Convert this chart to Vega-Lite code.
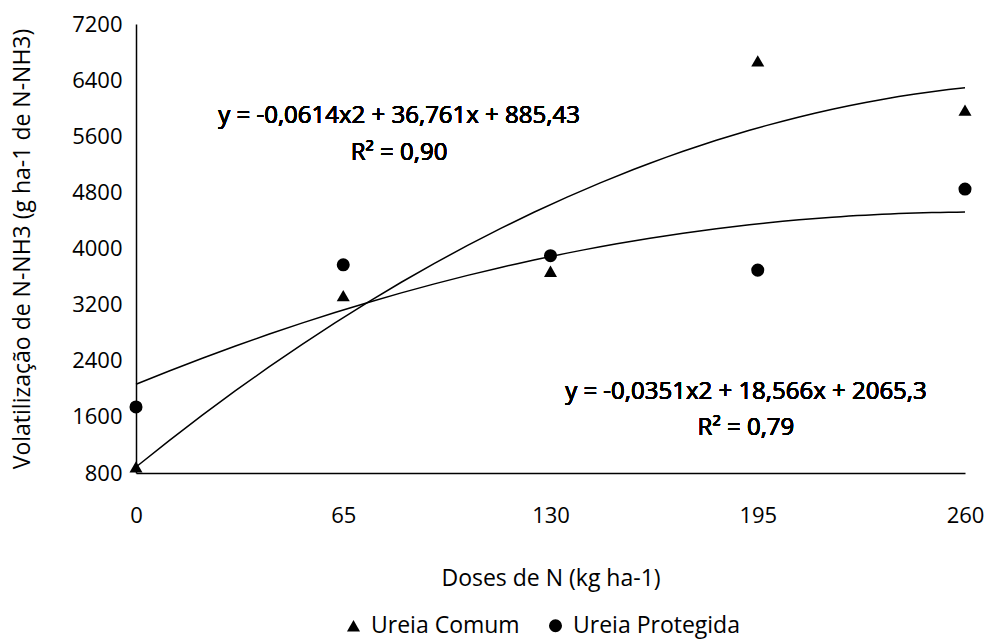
{
  "$schema": "https://vega.github.io/schema/vega-lite/v6.json",
  "autosize": {"type": "none"},
  "padding": {"left": 136, "top": 24, "right": 24, "bottom": 169},
  "width": 829,
  "height": 449,
  "background": "white",
  "config": {
    "view": {"stroke": null},
    "font": "Open Sans",
    "axis": {"grid": false, "ticks": false, "domainColor": "black", "domainWidth": 1.5, "labelColor": "black", "titleColor": "black", "labelFont": "Open Sans", "titleFont": "Open Sans", "labelFontSize": 22, "titleFontSize": 23, "titleFontWeight": "normal"},
    "legend": {"labelFont": "Open Sans", "labelFontSize": 23, "labelColor": "black", "labelLimit": 400}
  },
  "data": {
    "values": [
      {"serie": "Ureia Comum", "dose": 0, "nh3": 888},
      {"serie": "Ureia Comum", "dose": 65, "nh3": 3328},
      {"serie": "Ureia Comum", "dose": 130, "nh3": 3676},
      {"serie": "Ureia Comum", "dose": 195, "nh3": 6674},
      {"serie": "Ureia Comum", "dose": 260, "nh3": 5973},
      {"serie": "Ureia Protegida", "dose": 0, "nh3": 1741},
      {"serie": "Ureia Protegida", "dose": 65, "nh3": 3768},
      {"serie": "Ureia Protegida", "dose": 130, "nh3": 3897},
      {"serie": "Ureia Protegida", "dose": 195, "nh3": 3692},
      {"serie": "Ureia Protegida", "dose": 260, "nh3": 4847}
    ]
  },
  "layer": [
    {
      "transform": [{"regression": "nh3", "on": "dose", "groupby": ["serie"], "method": "poly", "order": 2, "extent": [0, 260]}],
      "mark": {"type": "line", "color": "black", "strokeWidth": 1.5},
      "encoding": {
        "x": {"field": "dose", "type": "quantitative"},
        "y": {"field": "nh3", "type": "quantitative"},
        "detail": {"field": "serie"}
      }
    },
    {
      "mark": {"type": "point", "filled": true, "color": "black", "opacity": 1, "size": 170},
      "encoding": {
        "x": {"field": "dose", "type": "quantitative",
          "scale": {"domain": [0, 260], "nice": false, "zero": false},
          "axis": {"values": [0, 65, 130, 195, 260], "labelPadding": 32, "labelFlush": false, "title": "Doses de N (kg ha-1)", "titleX": 414.5, "titleY": 105, "titleBaseline": "middle"}},
        "y": {"field": "nh3", "type": "quantitative",
          "scale": {"domain": [800, 7200], "nice": false, "zero": false},
          "axis": {"values": [800, 1600, 2400, 3200, 4000, 4800, 5600, 6400, 7200], "format": "d", "labelPadding": 14, "title": "Volatilização de N-NH3 (g ha-1 de N-NH3)", "titleX": -114, "titleY": 224.5, "titleAngle": -90, "titleBaseline": "middle", "titleAlign": "center"}},
        "shape": {"field": "serie", "type": "nominal",
          "scale": {"domain": ["Ureia Comum", "Ureia Protegida"], "range": ["triangle-up", "circle"]},
          "legend": {"title": null, "orient": "none", "direction": "horizontal", "legendX": 206, "legendY": 590, "symbolSize": 170, "symbolFillColor": "black", "symbolStrokeColor": "black", "columnPadding": 24, "labelOffset": 6}}
      }
    },
    {
      "mark": {"type": "text", "font": "Open Sans", "fontSize": 24, "fontWeight": 400, "fill": "black", "align": "center", "baseline": "middle", "text": "y = -0,0614x2 + 36,761x + 885,43"},
      "encoding": {"x": {"datum": 82.5}, "y": {"datum": 5888}}
    },
    {
      "mark": {"type": "text", "font": "Open Sans", "fontSize": 24, "fontWeight": 400, "fill": "black", "align": "center", "baseline": "middle", "text": "R² = 0,90"},
      "encoding": {"x": {"datum": 82.5}, "y": {"datum": 5361}}
    },
    {
      "mark": {"type": "text", "font": "Open Sans", "fontSize": 24, "fontWeight": 400, "fill": "black", "align": "center", "baseline": "middle", "text": "y = -0,0351x2 + 18,566x + 2065,3"},
      "encoding": {"x": {"datum": 191.3}, "y": {"datum": 1954}}
    },
    {
      "mark": {"type": "text", "font": "Open Sans", "fontSize": 24, "fontWeight": 400, "fill": "black", "align": "center", "baseline": "middle", "text": "R² = 0,79"},
      "encoding": {"x": {"datum": 191.3}, "y": {"datum": 1441}}
    }
  ]
}
